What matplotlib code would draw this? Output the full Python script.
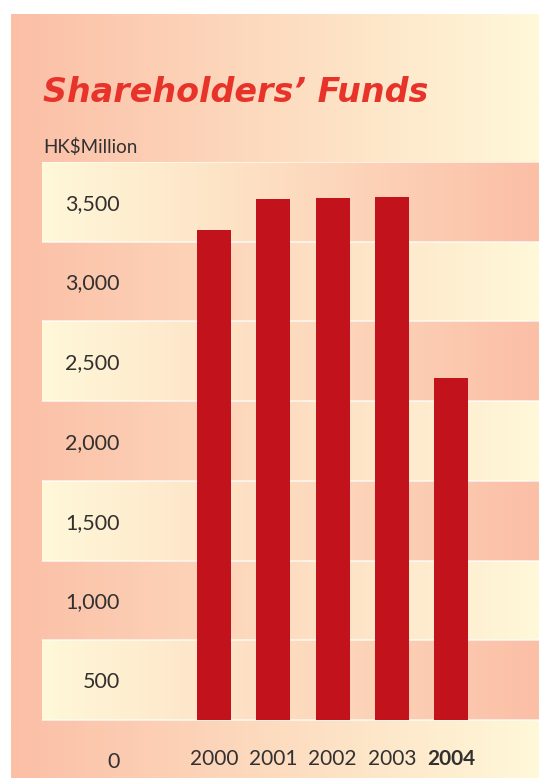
import matplotlib
matplotlib.use('Agg')
import matplotlib.pyplot as plt
import numpy as np
from matplotlib.colors import LinearSegmentedColormap

# ── Data ──
years = ['2000', '2001', '2002', '2003', '2004']
funds = [3324, 3519, 3525, 3531, 2396]          # HK$ million
y_ticks = [0, 500, 1000, 1500, 2000, 2500, 3000, 3500]
y_labels = [f'{v:,}' for v in y_ticks]

SALMON = '#FBBFA6'
YELLOW = '#FFF8D9'
BAR_RED = '#C2121B'
TITLE_RED = '#E8332B'
TEXT = '#333030'

BASE = 250                 # bars sit on the band line above the "0" row
BAND = 500
Y_TOP = 3750
Y_BOTTOM = -114

W, H = 539, 778
fig = plt.figure(figsize=(W / 100, H / 100), dpi=100)
fig.patch.set_facecolor('white')

ramp = np.linspace(0, 1, 256).reshape(1, -1)
warm = LinearSegmentedColormap.from_list('warm', [SALMON, YELLOW])
warm_r = LinearSegmentedColormap.from_list('warm_r', [YELLOW, SALMON])

# ── Background panel ──
bg = fig.add_axes([11 / W, 0, (W - 11) / W, (H - 14) / H])
bg.imshow(ramp, cmap=warm, aspect='auto', extent=(0, 1, 0, 1))
bg.set_axis_off()

# ── Chart panel ──
ax = fig.add_axes([42 / W, 0, (W - 42) / W, 616 / H])
ax.patch.set_alpha(0)
x0, x1 = -2.903, 5.485
n_bands = int((Y_TOP - BASE) / BAND)
for k in range(0, n_bands, 2):
    lo = BASE + k * BAND
    ax.imshow(ramp, cmap=warm_r, aspect='auto',
              extent=(x0, x1, lo, lo + BAND), zorder=1)
for k in range(n_bands + 1):
    ax.axhline(BASE + k * BAND, color='white', lw=1.2, alpha=0.75, zorder=1.5)

x = np.arange(len(years))
ax.bar(x, np.array(funds) - BASE, bottom=BASE, width=0.574,
       color=BAR_RED, zorder=2)

ax.set_xlim(x0, x1)
ax.set_ylim(Y_BOTTOM, Y_TOP)
for s in ax.spines.values():
    s.set_visible(False)

ax.set_yticks(y_ticks, y_labels)
ax.tick_params(axis='y', length=0, pad=-56, labelsize=15.5, labelcolor=TEXT)
ax.set_xticks(x, years)
ax.tick_params(axis='x', length=0, pad=-21, labelsize=15, labelcolor=TEXT)
for lab in ax.get_yticklabels() + ax.get_xticklabels():
    lab.set_fontfamily('Lato')
ax.get_yticklabels()[0].set_y(50)
ax.get_xticklabels()[-1].set_fontweight('bold')

# ── Titles ──
fig.text(43 / W, 1 - 102 / H, 'Shareholders\u2019 Funds', color=TITLE_RED,
         fontsize=24, fontfamily='DejaVu Sans', fontweight='bold',
         fontstyle='italic', va='baseline', ha='left')
fig.text(43 / W, 1 - 153 / H, 'HK$Million', color=TEXT, fontsize=13.5,
         fontfamily='Lato', va='baseline', ha='left')

plt.savefig('out.png', dpi=100)
